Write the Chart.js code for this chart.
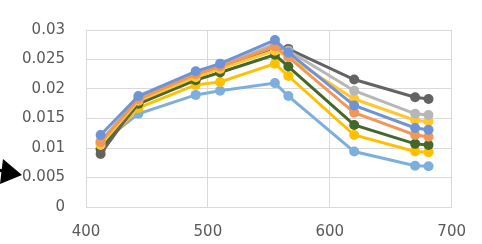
<!DOCTYPE html>
<html>
<head>
<meta charset="utf-8">
<script src="https://cdn.jsdelivr.net/npm/chart.js@4"></script>
<style>
  html, body { margin: 0; padding: 0; background: #fff; }
  #wrap { width: 482px; height: 244px; }
</style>
</head>
<body>
<div id="wrap"><canvas id="spec_chart" width="482" height="244"></canvas></div>
<script>
// wavelengths (nm)
const wl = [412, 443, 490, 510, 555, 566, 620, 670, 681]

// series values
const s_blue = [0.0122, 0.0188, 0.0230, 0.0243, 0.0283, 0.0262, 0.0172, 0.0134, 0.0131]
const s_orange = [0.0110, 0.0183, 0.0225, 0.0238, 0.0272, 0.0254, 0.0160, 0.0122, 0.0119]
const s_lgray = [0.0112, 0.0184, 0.0226, 0.0239, 0.0276, 0.0265, 0.0197, 0.0158, 0.0156]
const s_yellow1 = [0.0105, 0.0180, 0.0220, 0.0234, 0.0265, 0.0255, 0.0183, 0.0147, 0.0145]
const s_dgray = [0.0090, 0.0178, 0.0220, 0.0236, 0.0270, 0.0268, 0.0216, 0.0186, 0.0183]
const s_green = [0.0098, 0.0175, 0.0215, 0.0228, 0.0258, 0.0238, 0.0139, 0.0107, 0.0105]
const s_yellow2 = [0.0100, 0.0168, 0.0207, 0.0212, 0.0243, 0.0222, 0.0122, 0.0094, 0.0093]
const s_lblue = [0.0108, 0.0158, 0.0190, 0.0197, 0.0210, 0.0188, 0.0094, 0.0070, 0.0069]

const yTicks = [0, 0.005, 0.01, 0.015, 0.02, 0.025, 0.03]
const xTicks = [400, 500, 600, 700]

function pts(vals) {
	let out = []
	for (let i = 0; i < wl.length; i++) {
		out.push({ x: wl[i], y: vals[i] })
	}
	return out
}

function ds(vals, color) {
	return {
		data: pts(vals),
		borderColor: color,
		backgroundColor: color,
		borderWidth: 3,
		pointRadius: 5,
		pointBorderWidth: 0,
		showLine: true,
		tension: 0
	}
}

// arrow at the left edge (decoration only)
const arrowPlugin = {
	id: 'arrow',
	afterDraw(chart) {
		const c = chart.ctx
		c.save()
		c.fillStyle = '#000'
		c.strokeStyle = '#000'
		c.lineWidth = 3
		c.beginPath()
		c.moveTo(-2, 170)
		c.lineTo(8, 172)
		c.stroke()
		c.beginPath()
		c.moveTo(22, 175)
		c.lineTo(3, 159)
		c.lineTo(0, 184)
		c.closePath()
		c.fill()
		c.restore()
	}
}

const ctx = document.getElementById('spec_chart').getContext('2d')
const spec_chart = new Chart(ctx, {
	type: 'scatter',
	data: {
		datasets: [
			ds(s_blue, '#6E93D6'),
			ds(s_orange, '#F1975A'),
			ds(s_lgray, '#B7B7B7'),
			ds(s_yellow1, '#FFC82E'),
			ds(s_dgray, '#636363'),
			ds(s_green, '#43682B'),
			ds(s_yellow2, '#FFC000'),
			ds(s_lblue, '#7CAFDD')
		]
	},
	plugins: [arrowPlugin],
	options: {
		responsive: false,
		animation: false,
		layout: { padding: { top: 16, right: 17, left: 0, bottom: 0 } },
		plugins: {
			legend: { display: false },
			tooltip: { enabled: false }
		},
		scales: {
			x: {
				type: 'linear',
				min: 400,
				max: 700,
				afterBuildTicks: axis => { axis.ticks = xTicks.map(v => ({ value: v })) },
				afterFit: axis => { axis.height = 37 },
				grid: { color: '#D9D9D9', drawTicks: false },
				border: { color: '#D9D9D9' },
				ticks: {
					color: '#595959',
					font: { family: 'DejaVu Sans', size: 15 },
					padding: 16
				}
			},
			y: {
				min: 0,
				max: 0.03,
				afterBuildTicks: axis => { axis.ticks = yTicks.map(v => ({ value: v })) },
				afterFit: axis => { axis.width = 86 },
				grid: { color: '#D9D9D9', drawTicks: false },
				border: { color: '#D9D9D9' },
				ticks: {
					color: '#595959',
					font: { family: 'DejaVu Sans', size: 15 },
					padding: 21,
					callback: v => String(v)
				}
			}
		}
	}
})
</script>
</body>
</html>
